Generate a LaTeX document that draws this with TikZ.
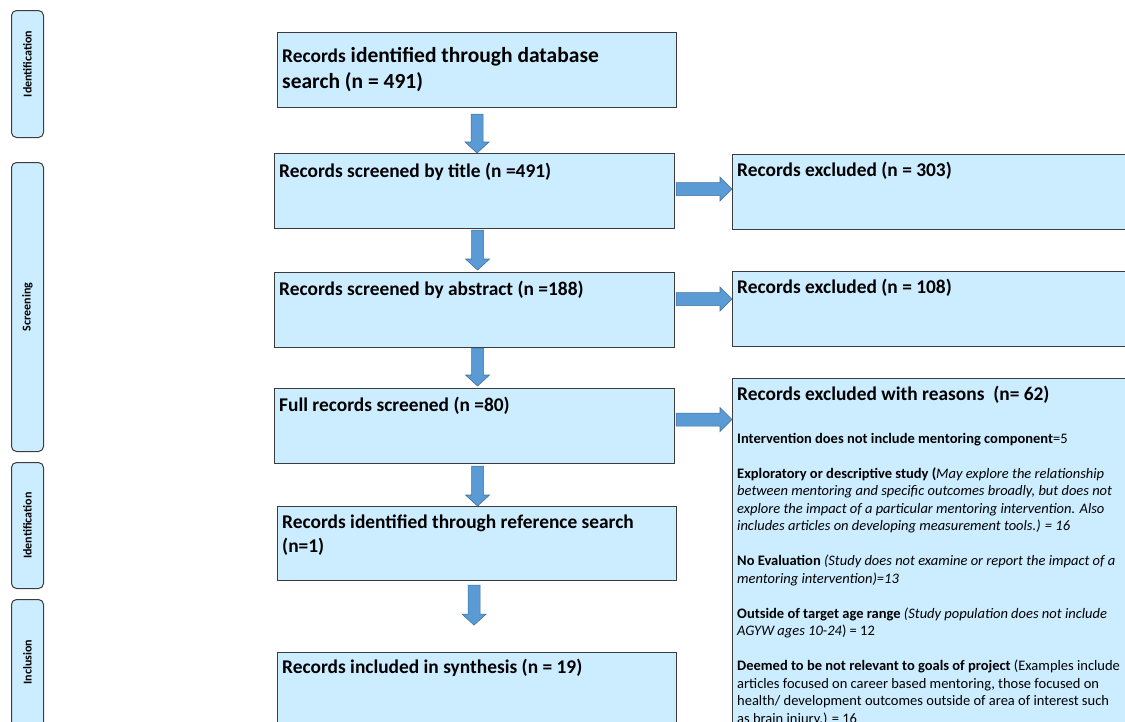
\documentclass[tikz,border=0pt]{standalone}
\usepackage{fontspec}
\setmainfont{Carlito}
\usetikzlibrary{calc}
\definecolor{boxfill}{RGB}{204,236,255}
\definecolor{boxline}{RGB}{60,60,60}
\definecolor{arrfill}{RGB}{91,155,213}
\definecolor{arrline}{RGB}{65,113,156}
\tikzset{
  flowbox/.style={draw=boxline, fill=boxfill, line width=1.1pt, anchor=north west, inner sep=0pt, rectangle},
  phasebox/.style={draw=boxline, fill=boxfill, line width=1pt, rounded corners=5pt, anchor=north west, inner sep=0pt, minimum width=32pt},
  phasetext/.style={font=\fontsize{12}{13}\selectfont\bfseries, rotate=90, inner sep=0pt},
  maintext/.style={font=\fontsize{19.4}{23}\selectfont\bfseries, anchor=base west, inner sep=0pt},
  bigtext/.style={font=\fontsize{21.5}{26}\selectfont\bfseries, anchor=base west, inner sep=0pt},
  smalltext/.style={font=\fontsize{14.5}{17.5}\selectfont, anchor=base west, inner sep=0pt, align=left},
  blockarrow/.style={fill=arrfill, draw=arrline, line width=0.6pt},
}
\newcommand\blockdown[2]{\path[blockarrow] let \p1=(#1), \p2=(#2) in
  (\x1-6pt,\y1) -- (\x1+6pt,\y1) -- (\x1+6pt,\y2+11pt) -- (\x1+12pt,\y2+11pt) -- (\x1,\y2)
  -- (\x1-12pt,\y2+11pt) -- (\x1-6pt,\y2+11pt) -- cycle;}
\newcommand\blockright[2]{\path[blockarrow] let \p1=(#1), \p2=(#2) in
  (\x1,\y1+6.5pt) -- (\x2-12pt,\y1+6.5pt) -- (\x2-12pt,\y1+12pt) -- (\x2,\y1)
  -- (\x2-12pt,\y1-12pt) -- (\x2-12pt,\y1-6.5pt) -- (\x1,\y1-6.5pt) -- cycle;}
\begin{document}
\begin{tikzpicture}[x=1pt, y=-1pt]
\path[use as bounding box] (0,0) rectangle (1125,721);
\clip (0,0) rectangle (1125,721);

% phase labels
\node[phasebox, minimum height=127pt] (P1) at (11,10) {};
\node[phasetext] (P1t) at ([yshift=10pt]P1.center) {Identification};
\node[phasebox, minimum height=289pt] (P2) at (11,162) {};
\node[phasetext] (P2t) at (P2.center) {Screening};
\node[phasebox, minimum height=126pt] (P3) at (11,462) {};
\node[phasetext] (P3t) at (P3.center) {Identification};
\node[phasebox, minimum height=160pt] (P4) at (11,599) {};
\node[phasetext] (P4t) at ([yshift=-63pt]P4.north) {Inclusion};

% main column
\node[flowbox, minimum width=399pt, minimum height=75pt] (A) at (277,32) {};
\node[bigtext] (A1) at ([xshift=5pt,yshift=-30pt]A.north west)
  {{\fontsize{19.4}{23}\selectfont Records} identified through database};
\node[bigtext] (A2) at ([xshift=5pt,yshift=-56pt]A.north west) {search (n = 491)};

\node[flowbox, minimum width=400pt, minimum height=75pt] (B) at (274,153) {};
\node[maintext] (Bt) at ([xshift=5pt,yshift=-24pt]B.north west) {Records screened by title (n =491)};

\node[flowbox, minimum width=400pt, minimum height=75pt] (C) at (274,272) {};
\node[maintext] (Ct) at ([xshift=5pt,yshift=-23pt]C.north west) {Records screened by abstract (n =188)};

\node[flowbox, minimum width=400pt, minimum height=75pt] (D) at (274,388) {};
\node[maintext] (Dt) at ([xshift=5pt,yshift=-23pt]D.north west) {Full records screened (n =80)};

\node[flowbox, minimum width=399pt, minimum height=74pt] (E) at (277,506) {};
\node[maintext] (E1) at ([xshift=5pt,yshift=-22pt]E.north west) {Records identified through reference search};
\node[maintext] (E2) at ([xshift=5pt,yshift=-46pt]E.north west) {(n=1)};

\node[flowbox, minimum width=399pt, minimum height=75pt] (F) at (277,652) {};
\node[maintext] (Ft) at ([xshift=5pt,yshift=-21pt]F.north west) {Records included in synthesis (n = 19)};

% exclusion column
\node[flowbox, minimum width=420pt, minimum height=75pt] (Bx) at (732,154) {};
\node[maintext] (Bxt) at ([xshift=5pt,yshift=-22pt]Bx.north west) {Records excluded (n = 303)};

\node[flowbox, minimum width=420pt, minimum height=75pt] (Cx) at (732,271) {};
\node[maintext] (Cxt) at ([xshift=5pt,yshift=-22pt]Cx.north west) {Records excluded (n = 108)};

\node[flowbox, minimum width=420pt, minimum height=400pt] (Dx) at (732,378) {};
\node[maintext] (Dxt) at ([xshift=5pt,yshift=-22pt]Dx.north west) {Records excluded with reasons\ \ (n= 62)};
\node[smalltext] (Dxb) at ([xshift=5pt,yshift=-345pt]Dx.north west) {%
\textbf{Intervention does not include mentoring component}=5\\[17.5pt]
\textbf{Exploratory or descriptive study (}\textit{May explore the relationship}\\
\textit{between mentoring and specific outcomes broadly, but does not}\\
\textit{explore the impact of a particular mentoring intervention. Also}\\
\textit{includes articles on developing measurement tools.) = 16}\\[17.5pt]
\textbf{No Evaluation} \textit{(Study does not examine or report the impact of a}\\
\textit{mentoring intervention)=13}\\[17.5pt]
\textbf{Outside of target age range} \textit{(Study population does not include}\\
\textit{AGYW ages 10-24}) = 12\\[17.5pt]
\textbf{Deemed to be not relevant to goals of project} (Examples include\\
articles focused on career based mentoring, those focused on\\
health/ development outcomes outside of area of interest such\\
as brain injury.) = 16};

% vertical arrows
\blockdown{$(A.south)+(0,6)$}{A.south |- B.north}
\blockdown{$(B.south)+(3,1)$}{$(C.north)+(3,-2)$}
\blockdown{$(C.south)+(3,0)$}{$(D.north)+(3,-2)$}
\blockdown{$(D.south)+(3,2)$}{E.north}
\blockdown{$(E.south)+(-3,4)$}{$(E.south)+(-3,44)$}

% horizontal arrows
\blockright{$(B.east)+(1,-2)$}{Bx.west}
\blockright{$(C.east)+(1,-11)$}{Cx.west}
\blockright{$(D.east)+(1,-6.5)$}{Dx.west}
\end{tikzpicture}
\end{document}
